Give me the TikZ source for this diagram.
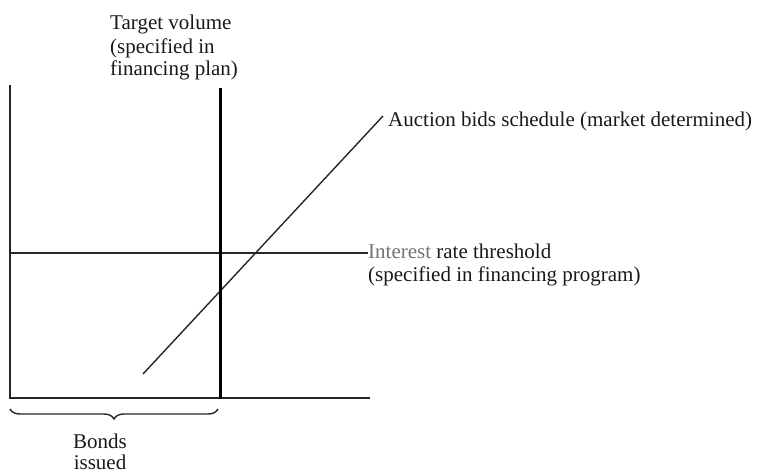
\documentclass[tikz,border=0pt]{standalone}
\usepackage{fontspec}
\setmainfont{Liberation Serif}
\usetikzlibrary{decorations.pathreplacing}
\begin{document}
\begin{tikzpicture}[x=1pt,y=-1pt,
  axis/.style={draw=black!85,line width=1.7pt},
  target/.style={draw=black,line width=3pt},
  lbl/.style={inner sep=0pt,anchor=base west,font=\fontsize{21}{23}\selectfont,text=black!90}]
\useasboundingbox (0,0) rectangle (757,474);
% coordinates
\coordinate (ytop) at (10,85);
\coordinate (origin) at (10,398);
\coordinate (xend) at (370,398);
\coordinate (ttop) at (220,88);
\coordinate (tbot) at (220,399);
\coordinate (hl) at (10,253);
\coordinate (hr) at (368,253);
\coordinate (ds) at (143,374);
\coordinate (de) at (383,116);
% lines
\draw[axis] (ytop) -- (origin) -- (xend);
\draw[axis] (hl) -- (hr);
\draw[axis,line width=1.4pt] (ds) -- (de);
\draw[target] (ttop) -- (tbot);
% labels
\node[lbl] (tv1) at (110,29) {Target volume};
\node[lbl] (tv2) at (110,53) {(specified in};
\node[lbl] (tv3) at (110,75) {financing plan)};
\node[lbl] (abs) at (388,126) {Auction bids schedule (market determined)};
\node[lbl] (irt) at (368,258) {\textcolor{black!55}{Interest} rate threshold};
\node[lbl] (irt2) at (368,281) {(specified in financing program)};
% brace
\draw[draw=black!85,line width=1.4pt,decorate,decoration={brace,mirror,amplitude=10pt}] (10,409) -- (218,409);
\node[lbl,anchor=base] (b1) at (100,448) {Bonds};
\node[lbl,anchor=base] (b2) at (100,469) {issued};
\end{tikzpicture}
\end{document}
